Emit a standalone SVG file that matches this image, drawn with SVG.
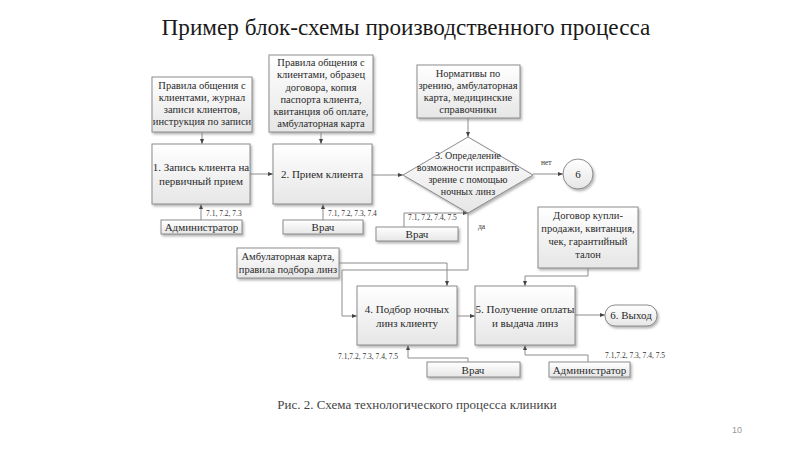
<svg xmlns="http://www.w3.org/2000/svg" width="800" height="450" viewBox="0 0 800 450">
<defs>
<linearGradient id="g" x1="0" y1="0" x2="0" y2="1">
<stop offset="0" stop-color="#ffffff"/>
<stop offset="1" stop-color="#e6e6e6"/>
</linearGradient>
<filter id="sh" x="-10%" y="-10%" width="130%" height="140%">
<feDropShadow dx="1.5" dy="2" stdDeviation="1.2" flood-color="#888" flood-opacity="0.6"/>
</filter>
<marker id="ar" viewBox="0 0 10 10" refX="10" refY="5" markerWidth="5" markerHeight="5" orient="auto">
<path d="M0,1 L10,5 L0,9 z" fill="#444"/>
</marker>
</defs>
<style>
.box{fill:url(#g);stroke:#8c8c8c;stroke-width:1;filter:url(#sh)}
text{font-family:'Liberation Serif','DejaVu Serif',serif}
.t{fill:#2a2a2a;text-anchor:middle}
.s{font-size:10.5px}
.d{font-size:10px}
.p{font-size:11px}
.n{fill:#333;font-size:7.5px}
.c{fill:none;stroke:#8c8c8c;stroke-width:1}
.a{marker-end:url(#ar)}
</style>
<rect width="800" height="450" fill="#fff"/>
<text x="406" y="35" class="t" style="font-size:23.2px;fill:#1a1a1a">Пример блок-схемы производственного процесса</text>

<g id="connectors">
<path class="c a" d="M202,132 V144"/>
<path class="c a" d="M321,132 V144"/>
<path class="c a" d="M468,118 V137"/>
<path class="c a" d="M250,174 H273"/>
<path class="c a" d="M372,175 H403"/>
<path class="c a" d="M533,174 H563"/>
<path class="c a" d="M201,220 V204"/>
<path class="c a" d="M323,220 V204"/>
<path class="c a" d="M404,227 V213 H468"/>
<path class="c a" d="M468,213 V270 H342 V316 H357"/>
<path class="c a" d="M339,263 H447 V286"/>
<path class="c a" d="M457,316 H475"/>
<path class="c a" d="M575,315 H605"/>
<path class="c a" d="M588,268 V276 H525 V286"/>
<path class="c a" d="M588,362 V355 H525 V345"/>
<path class="c a" d="M468,362 V358 H408 V345"/>
<text x="206" y="216" class="n">7.1, 7.2, 7.3</text>
<text x="328" y="216" class="n">7.1, 7.2, 7.3, 7.4</text>
<text x="408" y="220" class="n">7.1, 7.2, 7.4, 7.5</text>
<text x="338" y="359" class="n">7.1,7.2, 7.3, 7.4, 7.5</text>
<text x="605" y="358" class="n">7.1,7.2, 7.3, 7.4, 7.5</text>
<text x="541" y="165" class="n">нет</text>
<text x="478" y="229" class="n">да</text>
</g>

<g id="in1">
<rect class="box" x="152" y="77" width="100" height="55"/>
<text class="t s"><tspan x="202" y="89">Правила общения с</tspan><tspan x="202" y="101">клиентами, журнал</tspan><tspan x="202" y="113">записи клиентов,</tspan><tspan x="202" y="125">инструкция по записи</tspan></text>
</g>
<g id="in2">
<rect class="box" x="269" y="55" width="104" height="77"/>
<text class="t s"><tspan x="321" y="66">Правила общения с</tspan><tspan x="321" y="78">клиентами, образец</tspan><tspan x="321" y="90.5">договора, копия</tspan><tspan x="321" y="103">паспорта клиента,</tspan><tspan x="321" y="115">квитанция об оплате,</tspan><tspan x="321" y="127">амбулаторная карта</tspan></text>
</g>
<g id="norms">
<rect class="box" x="417" y="65" width="103" height="53"/>
<text class="t s"><tspan x="468" y="77">Нормативы по</tspan><tspan x="468" y="89">зрению, амбулаторная</tspan><tspan x="468" y="101">карта, медицинские</tspan><tspan x="468" y="113">справочники</tspan></text>
</g>
<g id="p1">
<rect class="box" x="152" y="144" width="98" height="60"/>
<text class="t p"><tspan x="201" y="171">1. Запись клиента на</tspan><tspan x="201" y="185">первичный прием</tspan></text>
</g>
<g id="p2">
<rect class="box" x="273" y="144" width="99" height="60"/>
<text class="t p" x="322" y="178">2. Прием клиента</text>
</g>
<g id="p3">
<polygon class="box" points="403,175 468,137 533,175 468,213"/>
<text class="t d"><tspan x="468" y="159">3. Определение</tspan><tspan x="468" y="171">возможности исправить</tspan><tspan x="468" y="183">зрение с помощью</tspan><tspan x="468" y="195">ночных линз</tspan></text>
</g>
<g id="c6">
<circle class="box" cx="578" cy="174" r="15"/>
<text class="t p" x="578" y="178">6</text>
</g>
<g id="adm1">
<rect class="box" x="161" y="220" width="81" height="14"/>
<text class="t p" x="201.5" y="231">Администратор</text>
</g>
<g id="vr1">
<rect class="box" x="283" y="220" width="80" height="14"/>
<text class="t p" x="323" y="231">Врач</text>
</g>
<g id="vr2">
<rect class="box" x="376" y="227" width="82" height="14"/>
<text class="t p" x="417" y="238">Врач</text>
</g>
<g id="amb">
<rect class="box" x="237" y="248" width="102" height="30"/>
<text class="t s"><tspan x="288" y="260">Амбулаторная карта,</tspan><tspan x="288" y="273">правила подбора линз</tspan></text>
</g>
<g id="dog">
<rect class="box" x="538" y="207" width="100" height="61"/>
<text class="t s"><tspan x="588" y="219">Договор купли-</tspan><tspan x="588" y="232">продажи, квитанция,</tspan><tspan x="588" y="245">чек, гарантийный</tspan><tspan x="588" y="258">талон</tspan></text>
</g>
<g id="p4">
<rect class="box" x="357" y="286" width="100" height="59"/>
<text class="t p"><tspan x="407" y="313">4. Подбор ночных</tspan><tspan x="407" y="327">линз клиенту</tspan></text>
</g>
<g id="p5">
<rect class="box" x="475" y="286" width="100" height="59"/>
<text class="t p"><tspan x="525" y="313">5. Получение оплаты</tspan><tspan x="525" y="327">и выдача линз</tspan></text>
</g>
<g id="exit">
<rect class="box" x="605" y="305" width="52" height="21" rx="10" ry="10"/>
<text class="t p" x="631" y="319">6. Выход</text>
</g>
<g id="vr3">
<rect class="box" x="427" y="362" width="93" height="15"/>
<text class="t p" x="473" y="373.5">Врач</text>
</g>
<g id="adm2">
<rect class="box" x="549" y="362" width="81" height="15"/>
<text class="t p" x="589.5" y="373.5">Администратор</text>
</g>

<text x="417" y="409" class="t" style="font-size:13px;fill:#444">Рис. 2. Схема технологического процесса клиники</text>
<text x="737" y="433" class="t" style="font-size:9px;fill:#999;font-family:'Liberation Sans',Arial,sans-serif">10</text>
</svg>
